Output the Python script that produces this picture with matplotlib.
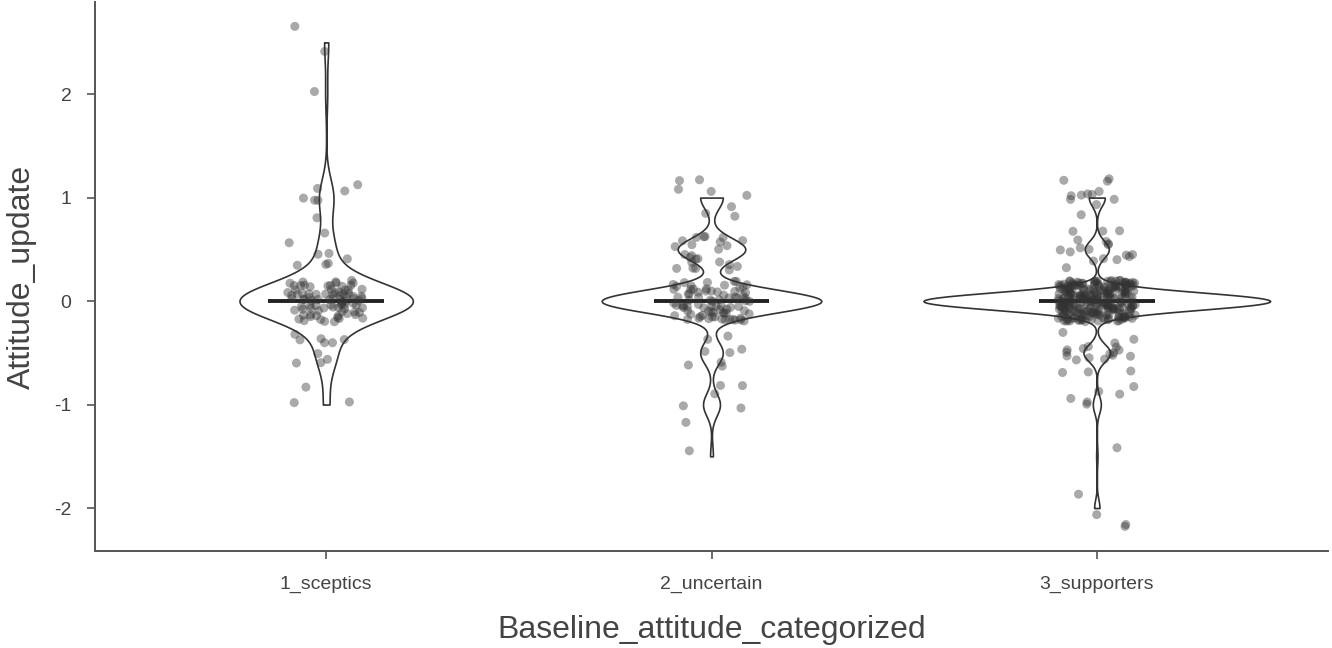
import numpy as np
import matplotlib
matplotlib.use("Agg")
import matplotlib.pyplot as plt

plt.rcParams['font.family'] = ['Liberation Sans', 'DejaVu Sans']

groups = ['1_sceptics', '2_uncertain', '3_supporters']
levels = [-2.0, -1.5, -1.0, -0.5, 0.0, 0.5, 1.0, 1.5, 2.0, 2.5]
sceptics_counts = [0, 0, 3, 10, 85, 8, 7, 0, 1, 2]
uncertain_counts = [0, 1, 6, 8, 78, 24, 8, 0, 0, 0]
supporters_counts = [4, 1, 6, 20, 260, 18, 12, 0, 0, 0]

all_counts = [sceptics_counts, uncertain_counts, supporters_counts]
data = [np.repeat(levels, c) for c in all_counts]

# violin look per group
bw = [0.36, 0.25, 0.22]
widths = [0.45, 0.57, 0.90]

fig = plt.figure(figsize=(13.32, 6.48), dpi=100)
ax = fig.add_axes([95 / 1332, 97 / 648, 1233 / 1332, 549 / 648])

rng = np.random.default_rng(3)
for i, vals in enumerate(data):
    pos = i + 1
    vp = ax.violinplot(vals, positions=[pos], widths=widths[i], bw_method=bw[i],
                       showextrema=False, points=400)
    for b in vp['bodies']:
        b.set_facecolor('white')
        b.set_edgecolor('#333333')
        b.set_linewidth(1.2)
        b.set_alpha(1)
        b.set_zorder(1)
    ax.hlines(np.median(vals), pos - 0.15, pos + 0.15, color='#222222', lw=2.8, zorder=2)
    # jittered points, like geom_jitter
    xj = pos + rng.uniform(-0.1, 0.1, len(vals))
    yj = vals + rng.uniform(-0.2, 0.2, len(vals))
    ax.scatter(xj, yj, s=42, color='#333333', alpha=0.42, edgecolors='none', zorder=3)

ax.set_xlim(0.4, 3.6)
ax.set_ylim(-2.415, 2.89)
ax.set_xticks([1, 2, 3])
ax.set_xticklabels(groups)
ax.set_yticks([-2, -1, 0, 1, 2])
ax.set_yticklabels(['-2', '-1', '0', '1', '2'])

for s in ['top', 'right']:
    ax.spines[s].set_visible(False)
for s in ['left', 'bottom']:
    ax.spines[s].set_color('#555555')
    ax.spines[s].set_linewidth(1.4)
ax.tick_params(colors='#555555', labelcolor='#444444', labelsize=14, length=6, width=1.2)
ax.tick_params(axis='x', pad=12)
ax.tick_params(axis='y', pad=11)

ax.set_xlabel('Baseline_attitude_categorized', fontsize=23, color='#444444', labelpad=16)
ax.set_ylabel('Attitude_update', fontsize=23, color='#444444', labelpad=12)

fig.savefig('out.png', dpi=100)
